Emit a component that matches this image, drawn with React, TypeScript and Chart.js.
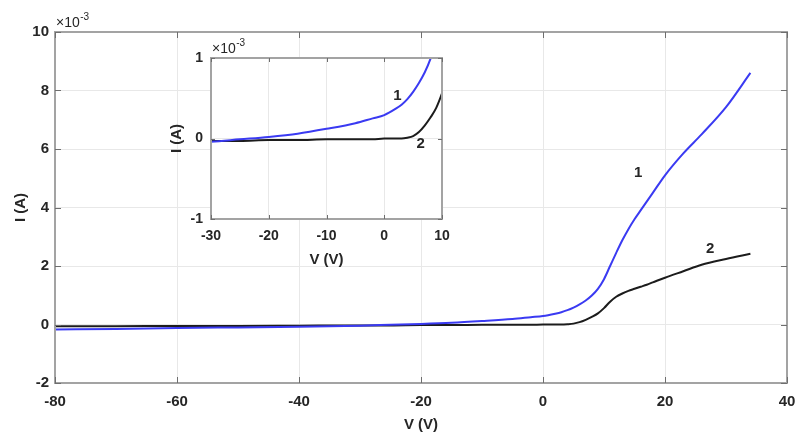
import { useEffect, useRef } from 'react';
import { Chart, registerables } from 'chart.js';

Chart.register(...registerables);

// Bias voltage (V) shared by both I–V curves
const voltage = [
  -80, -70, -60, -50, -40, -30, -25, -20, -15, -10, -5, -2, 0, 2, 3, 4, 5, 6, 7, 8, 9,
  10, 11, 12, 13, 14, 15, 16, 17, 18, 20, 23, 26, 30, 34,
];

// Curve 1 current, in units of 1e-3 A
const currentCurve1 = [
  -0.17, -0.15, -0.12, -0.1, -0.08, -0.04, -0.01, 0.02, 0.06, 0.12, 0.19, 0.25, 0.29, 0.37,
  0.42, 0.49, 0.58, 0.69, 0.82, 0.99, 1.22, 1.55, 2.0, 2.45, 2.88, 3.26, 3.6, 3.9, 4.2,
  4.5, 5.1, 5.85, 6.5, 7.43, 8.6,
];

// Curve 2 current, in units of 1e-3 A
const currentCurve2 = [
  -0.06, -0.06, -0.05, -0.05, -0.04, -0.03, -0.03, -0.02, -0.02, -0.01, -0.01, -0.01, 0.0,
  0.0, 0.0, 0.01, 0.03, 0.08, 0.16, 0.26, 0.38, 0.56, 0.78, 0.95, 1.06, 1.15, 1.22, 1.29,
  1.36, 1.44, 1.6, 1.82, 2.04, 2.24, 2.42,
];

const curveNames = ['1', '2'];

// Where each curve number is written, in data coordinates [V, mA]
const mainLabelAnchors: [number, number][] = [
  [15.6, 5.2],
  [27.4, 2.6],
];
const insetLabelAnchors: [number, number][] = [
  [2.3, 0.53],
  [6.3, -0.07],
];

const FONT = '"Liberation Sans", Arial, sans-serif';
const TEXT = '#262626';
const BLUE = '#3a3af2';
const BLACK = '#1c1c1c';

const toPoints = (ys: number[]) => voltage.map((v, i) => ({ x: v, y: ys[i] }));

interface PanelSpec {
  xMin: number;
  xMax: number;
  xStep: number;
  yMin: number;
  yMax: number;
  yStep: number;
  yAxisWidth: number;
  xAxisHeight: number;
  padding: { top: number; right: number; left: number; bottom: number };
  yTickPad: number;
  xTickPad: number;
  tickFont: number;
  tickLen: number;
  xTitleY: number;
  yTitleX: number;
  expX: number;
  expY: number;
  anchors: [number, number][];
  fillArea: boolean;
}

function makeChart(canvas: HTMLCanvasElement, p: PanelSpec) {
  const framePlugin = {
    id: 'frame',
    beforeDraw(chart: any) {
      if (!p.fillArea) return;
      const { ctx, chartArea: a } = chart;
      ctx.save();
      ctx.fillStyle = '#ffffff';
      ctx.fillRect(a.left, a.top, a.right - a.left, a.bottom - a.top);
      ctx.restore();
    },
    afterDraw(chart: any) {
      const { ctx, chartArea: a, scales } = chart;
      ctx.save();
      // axes box
      ctx.strokeStyle = '#a3a3a3';
      ctx.lineWidth = 2;
      ctx.strokeRect(a.left, a.top, a.right - a.left, a.bottom - a.top);
      // inward tick marks on all four sides
      ctx.strokeStyle = '#6e6e6e';
      ctx.lineWidth = 1;
      ctx.beginPath();
      scales.x.ticks.forEach((t: any) => {
        const px = Math.round(scales.x.getPixelForValue(t.value)) + 0.5;
        ctx.moveTo(px, a.bottom);
        ctx.lineTo(px, a.bottom - p.tickLen);
        ctx.moveTo(px, a.top);
        ctx.lineTo(px, a.top + p.tickLen);
      });
      scales.y.ticks.forEach((t: any) => {
        const py = Math.round(scales.y.getPixelForValue(t.value)) + 0.5;
        ctx.moveTo(a.left, py);
        ctx.lineTo(a.left + p.tickLen, py);
        ctx.moveTo(a.right, py);
        ctx.lineTo(a.right - p.tickLen, py);
      });
      ctx.stroke();

      ctx.fillStyle = TEXT;
      // axis titles
      ctx.font = `bold 15px ${FONT}`;
      ctx.textAlign = 'center';
      ctx.textBaseline = 'middle';
      ctx.fillText('V (V)', (a.left + a.right) / 2, p.xTitleY);
      ctx.save();
      ctx.translate(p.yTitleX, (a.top + a.bottom) / 2);
      ctx.rotate(-Math.PI / 2);
      ctx.fillText('I (A)', 0, 0);
      ctx.restore();

      // exponent label
      ctx.textAlign = 'left';
      ctx.textBaseline = 'alphabetic';
      ctx.font = `14px ${FONT}`;
      ctx.fillText('\u00d710', p.expX, p.expY);
      const w = ctx.measureText('\u00d710').width;
      ctx.font = `10px ${FONT}`;
      ctx.fillText('-3', p.expX + w + 0.5, p.expY - 7);

      // curve numbers
      ctx.font = `bold 15px ${FONT}`;
      ctx.textAlign = 'center';
      ctx.textBaseline = 'middle';
      p.anchors.forEach(([vx, vy], i) => {
        ctx.fillText(curveNames[i], scales.x.getPixelForValue(vx), scales.y.getPixelForValue(vy));
      });
      ctx.restore();
    },
  };

  return new Chart(canvas, {
    type: 'line',
    data: {
      datasets: [
        {
          label: curveNames[0],
          data: toPoints(currentCurve1),
          borderColor: BLUE,
          borderWidth: 2,
          pointRadius: 0,
          cubicInterpolationMode: 'monotone',
        },
        {
          label: curveNames[1],
          data: toPoints(currentCurve2),
          borderColor: BLACK,
          borderWidth: 2,
          pointRadius: 0,
          cubicInterpolationMode: 'monotone',
        },
      ],
    },
    options: {
      animation: false,
      responsive: false,
      devicePixelRatio: 1,
      layout: { padding: p.padding },
      plugins: { legend: { display: false }, tooltip: { enabled: false } },
      scales: {
        x: {
          type: 'linear',
          min: p.xMin,
          max: p.xMax,
          afterFit: (s: any) => {
            s.height = p.xAxisHeight;
          },
          // an invisible tick length keeps the labels clear of the box
          grid: {
            color: '#e8e8e8',
            lineWidth: 1,
            drawTicks: true,
            tickLength: p.xTickPad,
            tickColor: 'rgba(0,0,0,0)',
          },
          border: { display: false },
          ticks: {
            stepSize: p.xStep,
            padding: 0,
            color: TEXT,
            font: { family: FONT, size: p.tickFont, weight: 'bold' },
            maxRotation: 0,
          },
        },
        y: {
          type: 'linear',
          min: p.yMin,
          max: p.yMax,
          afterFit: (s: any) => {
            s.width = p.yAxisWidth;
          },
          grid: { color: '#e8e8e8', lineWidth: 1, drawTicks: false },
          border: { display: false },
          ticks: {
            stepSize: p.yStep,
            padding: p.yTickPad,
            color: TEXT,
            font: { family: FONT, size: p.tickFont, weight: 'bold' },
          },
        },
      },
    },
    plugins: [framePlugin],
  } as any);
}

const mainSpec: PanelSpec = {
  xMin: -80,
  xMax: 40,
  xStep: 20,
  yMin: -2,
  yMax: 10,
  yStep: 2,
  yAxisWidth: 55,
  xAxisHeight: 56,
  padding: { top: 32, right: 11, left: 0, bottom: 0 },
  yTickPad: 6,
  xTickPad: 10,
  tickFont: 15,
  tickLen: 6,
  xTitleY: 425,
  yTitleX: 21,
  expX: 56,
  expY: 27,
  anchors: mainLabelAnchors,
  fillArea: false,
};

const insetSpec: PanelSpec = {
  xMin: -30,
  xMax: 10,
  xStep: 10,
  yMin: -1,
  yMax: 1,
  yStep: 1,
  yAxisWidth: 61,
  xAxisHeight: 56,
  padding: { top: 28, right: 18, left: 0, bottom: 0 },
  yTickPad: 8,
  xTickPad: 9,
  tickFont: 14,
  tickLen: 4,
  xTitleY: 230,
  yTitleX: 27,
  expX: 62,
  expY: 23,
  anchors: insetLabelAnchors,
  fillArea: true,
};

export default function App() {
  const mainRef = useRef<HTMLCanvasElement>(null);
  const insetRef = useRef<HTMLCanvasElement>(null);

  useEffect(() => {
    const main = makeChart(mainRef.current!, mainSpec);
    const inset = makeChart(insetRef.current!, insetSpec);
    return () => {
      inset.destroy();
      main.destroy();
    };
  }, []);

  return (
    <div
      style={{
        position: 'fixed',
        left: 0,
        top: 0,
        width: 798,
        height: 439,
        background: '#ffffff',
        overflow: 'hidden',
      }}
    >
      <canvas
        ref={mainRef}
        width={798}
        height={439}
        style={{ position: 'absolute', left: 0, top: 0, width: 798, height: 439 }}
      />
      <canvas
        ref={insetRef}
        width={310}
        height={245}
        style={{ position: 'absolute', left: 150, top: 30, width: 310, height: 245 }}
      />
    </div>
  );
}
